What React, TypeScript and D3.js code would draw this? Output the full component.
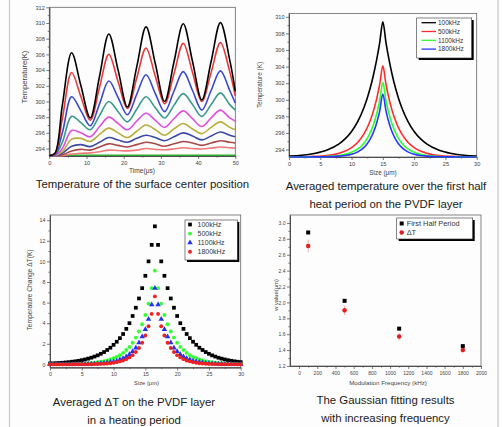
import * as d3 from "d3";
import { useEffect, useRef } from "react";

const FONT = "'Liberation Sans', Arial, Helvetica, sans-serif";

// ---- top left: temperature of the surface center vs time ----
const timeUs = [0, 1.5, 3.5, 6, 8.5, 11, 13.5, 16, 18.5, 21, 23.5, 26, 28.5, 31, 33.5, 36, 38.5, 41, 43.5, 46, 48.5, 50];
const surfA = [293.1, 293.4, 299.5, 306.2, 302.0, 297.9, 303.2, 308.6, 304.0, 299.3, 304.4, 309.5, 304.8, 300.0, 305.0, 309.9, 305.1, 300.2, 305.1, 310.05, 305.3, 301.3];
const surfB = [293.1, 293.3, 297.8, 303.7, 300.6, 297.6, 301.8, 306.0, 302.5, 299.1, 303.0, 306.8, 303.2, 299.7, 303.5, 307.4, 303.7, 300.0, 303.7, 307.5, 303.8, 300.7];
const surfC = [293.1, 293.2, 296.0, 300.6, 298.8, 296.9, 299.7, 302.6, 300.5, 298.3, 300.9, 303.4, 301.0, 298.7, 301.3, 303.8, 301.4, 298.9, 301.4, 303.9, 301.4, 299.8];
const surfD = [293.1, 293.15, 294.8, 298.1, 297.3, 296.4, 298.2, 300.0, 298.7, 297.4, 299.0, 300.6, 299.2, 297.9, 299.5, 301.0, 299.6, 298.1, 299.6, 301.1, 299.6, 298.9];
const surfE = [293.1, 293.1, 294.0, 296.3, 296.0, 295.5, 296.8, 298.0, 297.2, 296.4, 297.5, 298.5, 297.6, 296.7, 297.8, 298.8, 297.8, 296.8, 297.9, 298.9, 297.9, 297.5];
const surfF = [293.1, 293.1, 293.6, 295.2, 295.3, 294.9, 295.8, 296.6, 296.0, 295.4, 296.2, 297.0, 296.4, 295.7, 296.5, 297.2, 296.5, 295.9, 296.7, 297.4, 296.7, 296.4];
const surfG = [293.1, 293.1, 293.4, 294.3, 294.5, 294.25, 294.8, 295.4, 295.1, 294.8, 295.3, 295.7, 295.4, 295.0, 295.5, 296.0, 295.6, 295.1, 295.6, 296.1, 295.7, 295.5];
const surfH = [293.1, 293.1, 293.2, 293.7, 293.9, 293.8, 294.2, 294.6, 294.4, 294.2, 294.5, 294.8, 294.6, 294.3, 294.6, 294.9, 294.7, 294.4, 294.7, 295.0, 294.8, 294.7];
const surfI = [293.1, 293.1, 293.1, 293.3, 293.4, 293.45, 293.6, 293.8, 293.75, 293.7, 293.8, 294.0, 293.9, 293.85, 293.95, 294.1, 294.0, 293.95, 294.05, 294.2, 294.1, 294.05];
const surfJ = [293.15, 293.15, 293.15, 293.15, 293.15, 293.15, 293.15, 293.15, 293.15, 293.15, 293.15, 293.15, 293.15, 293.15, 293.15, 293.15, 293.15, 293.15, 293.15, 293.15, 293.15, 293.15];
const surfSeries = [surfJ, surfI, surfH, surfG, surfF, surfE, surfD, surfC, surfB, surfA];
const surfColors = ["#2eaa2e", "#f07a7a", "#a84848", "#3a48a8", "#b8ae3a", "#e050e0", "#3a9a8a", "#3a48d0", "#e8383c", "#000000"];

// ---- top right: averaged temperature, first half heat period ----
const sizeUm = [0, 2, 4, 6, 8, 9, 10, 11, 12, 12.5, 13, 13.5, 14, 14.5, 15, 15.5, 16, 16.5, 17, 17.5, 18, 19, 20, 21, 22, 24, 26, 28, 30];
const avg100 = [293.21, 293.31, 293.52, 293.91, 294.68, 295.31, 296.18, 297.4, 299.1, 300.19, 301.47, 302.99, 304.78, 306.9, 309.4, 306.9, 304.78, 302.99, 301.47, 300.19, 299.1, 297.4, 296.18, 295.31, 294.68, 293.91, 293.52, 293.31, 293.21];
const avg500 = [293.11, 293.13, 293.17, 293.28, 293.56, 293.82, 294.23, 294.88, 295.92, 296.63, 297.53, 298.66, 300.08, 301.87, 304.1, 301.87, 300.08, 298.66, 297.53, 296.63, 295.92, 294.88, 294.23, 293.82, 293.56, 293.28, 293.17, 293.13, 293.11];
const avg1100 = [293.1, 293.1, 293.12, 293.16, 293.28, 293.42, 293.66, 294.07, 294.8, 295.34, 296.06, 297.01, 298.26, 299.91, 302.1, 299.91, 298.26, 297.01, 296.06, 295.34, 294.8, 294.07, 293.66, 293.42, 293.28, 293.16, 293.12, 293.1, 293.1];
const avg1800 = [293.1, 293.1, 293.11, 293.13, 293.2, 293.28, 293.43, 293.72, 294.26, 294.69, 295.28, 296.08, 297.17, 298.66, 300.7, 298.66, 297.17, 296.08, 295.28, 294.69, 294.26, 293.72, 293.43, 293.28, 293.2, 293.13, 293.11, 293.1, 293.1];
const freqLabels = ["100kHz", "500kHz", "1100kHz", "1800kHz"];

// ---- bottom left: averaged delta T in a heating period ----
const gridUm = [0, 0.5, 1, 1.5, 2, 2.5, 3, 3.5, 4, 4.5, 5, 5.5, 6, 6.5, 7, 7.5, 8, 8.5, 9, 9.5, 10, 10.5, 11, 11.5, 12, 12.5, 13, 13.5, 14, 14.5, 15, 15.5, 16, 16.5, 17, 17.5, 18, 18.5, 19, 19.5, 20, 20.5, 21, 21.5, 22, 22.5, 23, 23.5, 24, 24.5, 25, 25.5, 26, 26.5, 27, 27.5, 28, 28.5, 29, 29.5, 30];
const dt100 = [0.09, 0.1, 0.12, 0.14, 0.16, 0.19, 0.22, 0.26, 0.3, 0.35, 0.41, 0.48, 0.56, 0.65, 0.76, 0.88, 1.03, 1.2, 1.4, 1.62, 1.9, 2.2, 2.55, 2.95, 3.45, 4.0, 4.7, 5.5, 6.4, 7.4, 8.6, 10.0, 11.6, 13.4, 11.6, 10.0, 8.6, 7.4, 6.4, 5.5, 4.7, 4.0, 3.45, 2.95, 2.55, 2.2, 1.9, 1.62, 1.4, 1.2, 1.03, 0.88, 0.76, 0.65, 0.56, 0.48, 0.41, 0.35, 0.3, 0.26, 0.22];
const dt500 = [0.01, 0.01, 0.02, 0.02, 0.02, 0.03, 0.03, 0.04, 0.05, 0.06, 0.07, 0.09, 0.11, 0.14, 0.17, 0.21, 0.26, 0.32, 0.39, 0.48, 0.6, 0.73, 0.9, 1.12, 1.4, 1.7, 2.1, 2.6, 3.2, 3.9, 4.8, 5.9, 7.4, 9.1, 7.4, 5.9, 4.8, 3.9, 3.2, 2.6, 2.1, 1.7, 1.4, 1.12, 0.9, 0.73, 0.6, 0.48, 0.39, 0.32, 0.26, 0.21, 0.17, 0.14, 0.11, 0.09, 0.07, 0.06, 0.05, 0.04, 0.03];
const dt1100 = [0.01, 0.01, 0.01, 0.01, 0.01, 0.01, 0.01, 0.01, 0.02, 0.02, 0.03, 0.03, 0.04, 0.05, 0.06, 0.08, 0.1, 0.12, 0.16, 0.21, 0.27, 0.35, 0.45, 0.58, 0.75, 0.97, 1.25, 1.6, 2.1, 2.7, 3.4, 4.4, 5.8, 7.4, 5.8, 4.4, 3.4, 2.7, 2.1, 1.6, 1.25, 0.97, 0.75, 0.58, 0.45, 0.35, 0.27, 0.21, 0.16, 0.12, 0.1, 0.08, 0.06, 0.05, 0.04, 0.03, 0.03, 0.02, 0.02, 0.01, 0.01];
const dt1800 = [0, 0, 0, 0, 0, 0, 0, 0, 0.01, 0.01, 0.01, 0.01, 0.02, 0.02, 0.03, 0.04, 0.05, 0.07, 0.09, 0.12, 0.16, 0.22, 0.29, 0.38, 0.51, 0.68, 0.9, 1.2, 1.6, 2.1, 2.8, 3.7, 4.9, 6.6, 4.9, 3.7, 2.8, 2.1, 1.6, 1.2, 0.9, 0.68, 0.51, 0.38, 0.29, 0.22, 0.16, 0.12, 0.09, 0.07, 0.05, 0.04, 0.03, 0.02, 0.02, 0.01, 0.01, 0.01, 0.01, 0, 0];

// ---- bottom right: gaussian fitting results ----
const freqKHz = [100, 500, 1100, 1800];
const wFirstHalf = [2.88, 2.02, 1.67, 1.45];
const wDeltaT = [2.71, 1.9, 1.57, 1.4];
const wDeltaTErr = [0.08, 0.06, 0.05, 0.04];

type Sel = d3.Selection<SVGSVGElement, unknown, null, undefined>;

function axes(svg: Sel, x: any, y: any, xt: number[], xm: number[], yt: number[], ym: number[], yFmt: (v: number) => string, fs: number) {
  const [x0, x1] = x.range();
  const [y0, y1] = y.range();
  const g = svg.append("g");
  g.append("rect")
    .attr("x", x0).attr("y", y1)
    .attr("width", x1 - x0).attr("height", y0 - y1)
    .attr("fill", "none").attr("stroke", "#666").attr("stroke-width", 0.8);

  g.append("g").attr("transform", `translate(0,${y0})`)
    .call(d3.axisBottom(x).tickValues(xm).tickSize(1.6).tickSizeOuter(0).tickFormat(() => ""));
  g.append("g").attr("transform", `translate(0,${y0})`)
    .call(d3.axisBottom(x).tickValues(xt).tickSize(3).tickSizeOuter(0).tickPadding(2).tickFormat((v: any) => String(v)));
  g.append("g").attr("transform", `translate(${x0},0)`)
    .call(d3.axisLeft(y).tickValues(ym).tickSize(1.6).tickSizeOuter(0).tickFormat(() => ""));
  g.append("g").attr("transform", `translate(${x0},0)`)
    .call(d3.axisLeft(y).tickValues(yt).tickSize(3).tickSizeOuter(0).tickPadding(1.5).tickFormat(yFmt as any));

  g.selectAll("text").attr("font-size", fs).attr("fill", "#444").attr("font-family", FONT);
  g.selectAll(".tick line, .domain").attr("stroke", "#444").attr("stroke-width", 0.7);
}

function label(svg: Sel, text: string, x: number, y: number, size: number, rotate = false) {
  svg.append("text")
    .attr("x", x).attr("y", y)
    .attr("text-anchor", "middle")
    .attr("font-family", FONT)
    .attr("font-size", size)
    .attr("fill", size > 9 ? "#1a1a1a" : "#444")
    .attr("transform", rotate ? `rotate(-90,${x},${y})` : null)
    .text(text);
}

function legendText(svg: Sel, text: string, x: number, y: number, size: number) {
  svg.append("text").attr("x", x).attr("y", y + size * 0.35).attr("font-size", size)
    .attr("font-family", FONT).attr("fill", "#333").text(text);
}

function legendBox(svg: Sel, x: number, y: number, w: number, h: number) {
  svg.append("rect").attr("x", x + 2).attr("y", y + 2).attr("width", w).attr("height", h).attr("fill", "#000");
  svg.append("rect").attr("x", x).attr("y", y).attr("width", w).attr("height", h)
    .attr("fill", "#fff").attr("stroke", "#333").attr("stroke-width", 0.6);
}

function drawSurface(svg: Sel) {
  const x = d3.scaleLinear().domain([0, 50]).range([49.3, 235.3]);
  const y = d3.scaleLinear().domain([293.05, 312]).range([156, 7.3]);
  axes(svg, x, y, [0, 10, 20, 30, 40, 50], [5, 15, 25, 35, 45],
    d3.range(294, 313, 2), d3.range(295, 312, 2), (v) => String(v), 5.6);

  const line = d3.line<number>()
    .x((_, i) => x(timeUs[i]))
    .y((d) => y(d))
    .curve(d3.curveCatmullRom.alpha(0.5));
  surfSeries.forEach((s, k) => {
    svg.append("path").attr("d", line(s)).attr("fill", "none")
      .attr("stroke", surfColors[k]).attr("stroke-width", 1.6);
  });

  label(svg, "Temperature(K)", 27, 77, 7.6, true);
  label(svg, "Time(\u03bcs)", 142, 172.5, 6.6);
  label(svg, "Temperature of the surface center position", 142.5, 188, 11.4);
}

function drawAverage(svg: Sel) {
  const x = d3.scaleLinear().domain([0, 30]).range([289, 476.7]);
  const y = d3.scaleLinear().domain([293.1, 310.4]).range([157, 13.5]);
  axes(svg, x, y, [0, 5, 10, 15, 20, 25, 30], [2.5, 7.5, 12.5, 17.5, 22.5, 27.5],
    d3.range(294, 311, 2), d3.range(295, 311, 2), (v) => String(v), 5.6);

  const series = [avg100, avg500, avg1100, avg1800];
  const colors = ["#000000", "#ff2a2a", "#2cff2c", "#2a36ff"];
  const line = d3.line<number>()
    .x((_, i) => x(sizeUm[i]))
    .y((d) => y(d))
    .curve(d3.curveMonotoneX);
  series.forEach((s, k) => {
    svg.append("path").attr("d", line(s)).attr("fill", "none")
      .attr("stroke", colors[k]).attr("stroke-width", 1.6);
  });

  legendBox(svg, 416.7, 18, 55, 40);
  freqLabels.forEach((t, k) => {
    const ly = 22.7 + k * 8.8;
    svg.append("line").attr("x1", 421.5).attr("x2", 436).attr("y1", ly).attr("y2", ly)
      .attr("stroke", colors[k]).attr("stroke-width", 1.3);
    legendText(svg, t, 438, ly, 6.5);
  });

  label(svg, "Temperature (K)", 262, 85, 6.4, true);
  label(svg, "Size (\u03bcm)", 383, 175, 6.4);
  label(svg, "Averaged temperature over the first half", 386, 189.5, 11.4);
  label(svg, "heat period on the PVDF layer", 386, 208, 11.4);
}

function drawDelta(svg: Sel) {
  const x = d3.scaleLinear().domain([0, 30]).range([50, 240.7]);
  const y = d3.scaleLinear().domain([-0.3, 14.5]).range([367.5, 215]);
  axes(svg, x, y, [0, 5, 10, 15, 20, 25, 30], [2.5, 7.5, 12.5, 17.5, 22.5, 27.5],
    d3.range(0, 15, 2), d3.range(1, 15, 2), (v) => String(v), 5.3);

  const sets = [
    { v: dt100, c: "#000000", s: d3.symbolSquare, size: 14 },
    { v: dt500, c: "#33ff33", s: d3.symbolCircle, size: 12 },
    { v: dt1100, c: "#2233ee", s: d3.symbolTriangle, size: 13 },
    { v: dt1800, c: "#ee2222", s: d3.symbolCircle, size: 12 },
  ];
  sets.forEach((set) => {
    const sym = d3.symbol().type(set.s).size(set.size);
    svg.append("g").selectAll("path")
      .data(set.v)
      .enter()
      .append("path")
      .attr("d", sym() as string)
      .attr("transform", (d, i) => `translate(${x(gridUm[i])},${y(d)})`)
      .attr("fill", set.c);
  });

  legendBox(svg, 185, 220, 52.3, 40);
  sets.forEach((set, k) => {
    const ly = 224.5 + k * 9.1;
    svg.append("path").attr("d", d3.symbol().type(set.s).size(set.size)() as string)
      .attr("transform", `translate(190,${ly})`).attr("fill", set.c);
    legendText(svg, freqLabels[k], 197.5, ly, 7);
  });

  label(svg, "Temperature Change \u0394T(K)", 32, 290, 6.6, true);
  label(svg, "Size (\u03bcm)", 146.5, 384.5, 5.8);
  label(svg, "Averaged \u0394T on the PVDF layer", 134, 405.5, 11.4);
  label(svg, "in a heating period", 134, 424, 11.4);
}

function drawFit(svg: Sel) {
  const x = d3.scaleLinear().domain([-100, 2000]).range([290, 481]);
  const y = d3.scaleLinear().domain([1.2, 3.1]).range([366, 215]);
  axes(svg, x, y, d3.range(0, 2001, 200), d3.range(100, 2000, 200),
    d3.range(1.2, 3.01, 0.2), d3.range(1.3, 3.1, 0.2), d3.format(".1f"), 5);

  const eb = svg.append("g");
  freqKHz.forEach((f, i) => {
    eb.append("line").attr("x1", x(f)).attr("x2", x(f))
      .attr("y1", y(wDeltaT[i] - wDeltaTErr[i])).attr("y2", y(wDeltaT[i] + wDeltaTErr[i]))
      .attr("stroke", "#f2a0a0").attr("stroke-width", 0.8);
  });
  const sq = d3.symbol().type(d3.symbolSquare).size(16)() as string;
  const ci = d3.symbol().type(d3.symbolCircle).size(16)() as string;
  svg.append("g").selectAll("path").data(wFirstHalf).enter().append("path")
    .attr("d", sq).attr("transform", (d, i) => `translate(${x(freqKHz[i])},${y(d)})`).attr("fill", "#000");
  svg.append("g").selectAll("path").data(wDeltaT).enter().append("path")
    .attr("d", ci).attr("transform", (d, i) => `translate(${x(freqKHz[i])},${y(d)})`).attr("fill", "#e41e1e");

  legendBox(svg, 396.7, 218, 76, 21);
  svg.append("path").attr("d", sq).attr("transform", "translate(401.7,223.5)").attr("fill", "#000");
  legendText(svg, "First Half Period", 406.7, 223.5, 7.4);
  svg.append("path").attr("d", ci).attr("transform", "translate(401.7,232.5)").attr("fill", "#e41e1e");
  legendText(svg, "\u0394T", 406.7, 232.5, 7.4);

  label(svg, "w value(\u03bcm)", 278, 295, 5.8, true);
  label(svg, "Modulation Frequency (kHz)", 388, 384.5, 6.2);
  label(svg, "The Gaussian fitting results", 385.5, 404, 11.4);
  label(svg, "with increasing frequency", 385.5, 422, 11.4);
}

export default function App() {
  const ref = useRef<SVGSVGElement>(null);

  useEffect(() => {
    const svg = d3.select(ref.current as SVGSVGElement) as Sel;
    svg.selectAll("*").remove();

    svg.append("rect").attr("width", 503).attr("height", 427).attr("fill", "#fdfdfd");
    svg.append("line").attr("x1", 9.5).attr("x2", 9.5).attr("y1", 0).attr("y2", 427)
      .attr("stroke", "#c8c8c8").attr("stroke-width", 1.2);
    svg.append("line").attr("x1", 498).attr("x2", 498).attr("y1", 0).attr("y2", 427)
      .attr("stroke", "#c8c8c8").attr("stroke-width", 1.2);

    drawSurface(svg);
    drawAverage(svg);
    drawDelta(svg);
    drawFit(svg);
  }, []);

  return (
    <svg ref={ref} width={503} height={427}
      style={{ position: "absolute", left: 0, top: 0, display: "block" }} />
  );
}
